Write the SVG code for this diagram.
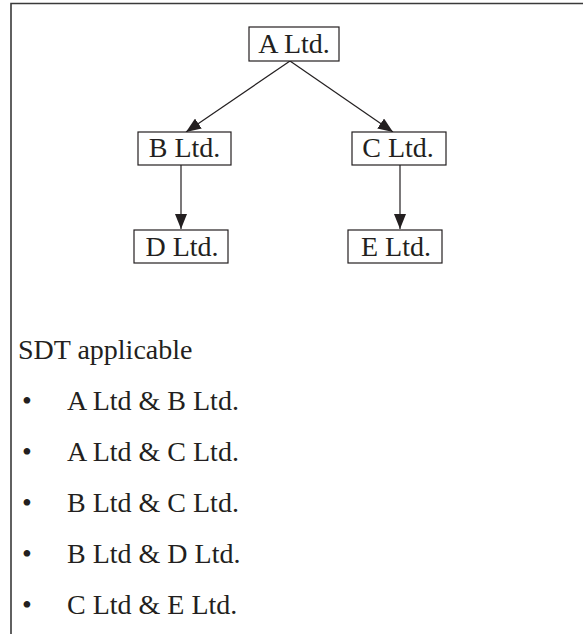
<svg xmlns="http://www.w3.org/2000/svg" width="583" height="634" viewBox="0 0 583 634">
<style>
  .t { font-family: "Liberation Serif", "Times New Roman", serif; font-size: 28px; fill: #231f20; }
  .box { fill: #ffffff; stroke: #231f20; stroke-width: 1.2; }
  .conn { stroke: #231f20; stroke-width: 1.2; fill: none; marker-end: url(#arr); }
  .frame { stroke: #3a3a3a; stroke-width: 1.6; fill: none; }
</style>
<defs>
  <marker id="arr" markerUnits="userSpaceOnUse" markerWidth="16" markerHeight="12" refX="15" refY="6" orient="auto">
    <path d="M0,0 L15,6 L0,12 Z" fill="#231f20"/>
  </marker>
</defs>
<rect width="583" height="634" fill="#ffffff"/>
<path class="frame" d="M11,634 L11,3.5 L583,3.5"/>
<g id="connectors">
  <line class="conn" x1="290" y1="61" x2="186" y2="132"/>
  <line class="conn" x1="290" y1="61" x2="393" y2="132"/>
  <line class="conn" x1="181" y1="165" x2="181" y2="229"/>
  <line class="conn" x1="400" y1="165" x2="400" y2="229"/>
</g>
<g id="nodeA">
  <rect class="box" x="249" y="27" width="90" height="34"/>
  <text class="t" x="294" y="53" text-anchor="middle">A Ltd.</text>
</g>
<g id="nodeB">
  <rect class="box" x="138" y="132" width="93" height="33"/>
  <text class="t" x="184.5" y="157" text-anchor="middle">B Ltd.</text>
</g>
<g id="nodeC">
  <rect class="box" x="352" y="132" width="94" height="33"/>
  <text class="t" x="398" y="157" text-anchor="middle">C Ltd.</text>
</g>
<g id="nodeD">
  <rect class="box" x="134" y="230" width="94" height="33"/>
  <text class="t" x="182" y="256" text-anchor="middle">D Ltd.</text>
</g>
<g id="nodeE">
  <rect class="box" x="348" y="230" width="94" height="33"/>
  <text class="t" x="396" y="256" text-anchor="middle">E Ltd.</text>
</g>
<g id="list">
  <text class="t" x="18" y="359">SDT applicable</text>
  <text class="t" x="22" y="410">•</text>
  <text class="t" x="67" y="410">A Ltd &amp; B Ltd.</text>
  <text class="t" x="22" y="461">•</text>
  <text class="t" x="67" y="461">A Ltd &amp; C Ltd.</text>
  <text class="t" x="22" y="512">•</text>
  <text class="t" x="67" y="512">B Ltd &amp; C Ltd.</text>
  <text class="t" x="22" y="563">•</text>
  <text class="t" x="67" y="563">B Ltd &amp; D Ltd.</text>
  <text class="t" x="22" y="614">•</text>
  <text class="t" x="67" y="614">C Ltd &amp; E Ltd.</text>
</g>
</svg>
